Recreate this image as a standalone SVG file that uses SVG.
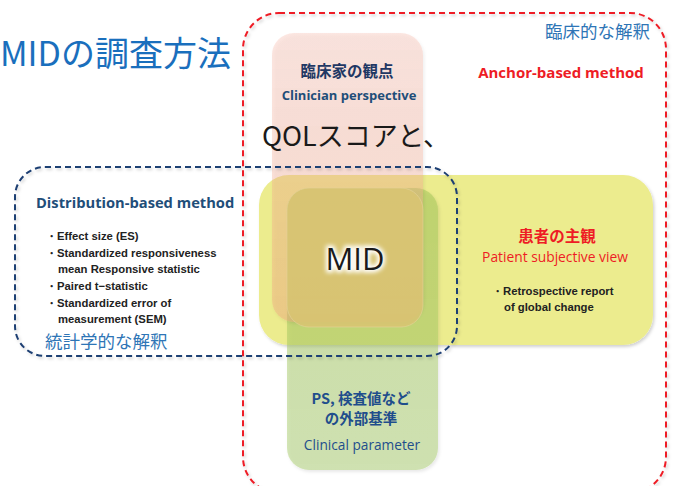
<svg xmlns="http://www.w3.org/2000/svg" width="675" height="486" viewBox="0 0 675 486">
<defs>
<style>
.jp{font-family:"Noto Sans CJK JP","Noto Sans",sans-serif}
.en{font-family:"Open Sans","Noto Sans","Liberation Sans",sans-serif}
.li{font-family:"Liberation Sans",Arial,sans-serif;font-weight:bold;font-size:11.3px;fill:#222}
.navy{fill:#1f4e8c}
.red{fill:#ee1c25}
.blue{fill:#2e75b6}
</style>
<filter id="sh" x="-10%" y="-10%" width="120%" height="120%">
<feDropShadow dx="1.5" dy="2" stdDeviation="1.5" flood-color="#000" flood-opacity="0.18"/>
</filter>
<filter id="glow" x="-20%" y="-40%" width="140%" height="180%">
<feGaussianBlur stdDeviation="2.2"/>
</filter>
<linearGradient id="gp" x1="0" y1="0" x2="0" y2="1">
<stop offset="0" stop-color="#f7b4a4" stop-opacity="0.32"/>
<stop offset="1" stop-color="#f2a07e" stop-opacity="0.38"/>
</linearGradient>
<linearGradient id="gg" x1="0" y1="0" x2="0" y2="1">
<stop offset="0" stop-color="#a0c458" stop-opacity="0.5"/>
<stop offset="1" stop-color="#a8cc6c" stop-opacity="0.48"/>
</linearGradient>
</defs>
<rect width="675" height="486" fill="#fff"/>

<g id="title">
<text x="0" y="66" class="jp" font-size="34" fill="#1a6fbd">MIDの調査方法</text>
</g>

<g id="anchor-frame">
<rect x="243" y="13" width="423" height="480" rx="36" fill="none" stroke="#ee1c25" stroke-width="2" stroke-dasharray="6,4" filter="url(#sh)"/>
<text x="650" y="38" text-anchor="end" class="jp blue" font-size="17.5">臨床的な解釈</text>
<text x="561" y="78" text-anchor="middle" class="en red" font-size="15" font-weight="bold">Anchor-based method</text>
</g>

<g id="patient">
<rect x="259" y="175" width="394" height="170" rx="30" fill="#ecec8e" filter="url(#sh)"/>
<text x="557" y="242" text-anchor="middle" class="jp red" font-size="15.5" font-weight="bold">患者の主観</text>
<text x="555" y="262" text-anchor="middle" class="en red" font-size="13.8">Patient subjective view</text>
<text x="492" y="295" class="li">・Retrospective report</text>
<text x="504" y="311" class="li">of global change</text>
</g>

<g id="clinical">
<rect x="287" y="188" width="151" height="282" rx="22" fill="url(#gg)" filter="url(#sh)"/>
<text x="361" y="404" text-anchor="middle" class="jp navy" font-size="14.5" font-weight="bold">PS, 検査値など</text>
<text x="361" y="424" text-anchor="middle" class="jp navy" font-size="14.5" font-weight="bold">の外部基準</text>
<text x="362" y="450" text-anchor="middle" class="en navy" font-size="13.7">Clinical parameter</text>
</g>

<g id="clinician">
<rect x="272" y="33" width="151" height="289" rx="22" fill="url(#gp)" filter="url(#sh)"/>
<text x="347" y="77" text-anchor="middle" class="jp" font-size="15.5" font-weight="bold" fill="#1f3864">臨床家の観点</text>
<text x="349" y="100" text-anchor="middle" class="en" font-size="13" font-weight="bold" fill="#1f4e79">Clinician perspective</text>
</g>

<g id="mid">
<rect x="287" y="188" width="136" height="139" rx="22" fill="#d8c472" fill-opacity="0.9" stroke="#e6d49a" stroke-opacity="0.6"/>
<text x="355" y="270" text-anchor="middle" class="en" font-size="31" fill="#fff" stroke="#fff" stroke-width="5" filter="url(#glow)">MID</text>
<text x="355" y="270" text-anchor="middle" class="en" font-size="31" fill="#1a1a1a">MID</text>
</g>

<g id="qol">
<text x="262" y="146" class="jp" font-size="27" fill="#1a1a1a">QOLスコアと、</text>
</g>

<g id="distribution">
<rect x="15" y="167" width="442" height="189" rx="30" fill="none" stroke="#1f3f73" stroke-width="2" stroke-dasharray="6,4" filter="url(#sh)"/>
<text x="36" y="208" class="en" font-size="14.7" font-weight="bold" fill="#1f4e79">Distribution-based method</text>
<text x="46" y="240" class="li">・Effect size (ES)</text>
<text x="46" y="257" class="li">・Standardized responsiveness</text>
<text x="58" y="273" class="li">mean Responsive statistic</text>
<text x="46" y="290" class="li">・Paired t−statistic</text>
<text x="46" y="307" class="li">・Standardized error of</text>
<text x="58" y="323" class="li">measurement (SEM)</text>
<text x="45" y="348" class="jp blue" font-size="17.5">統計学的な解釈</text>
</g>
</svg>
